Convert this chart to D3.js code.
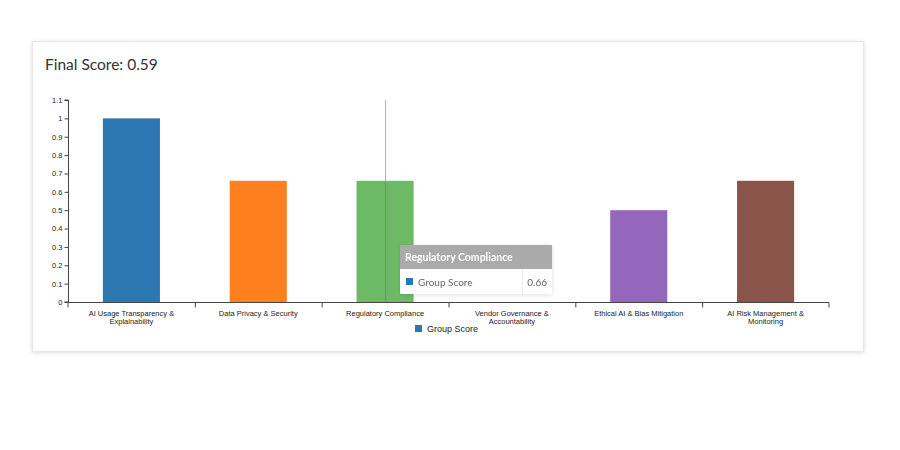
<!DOCTYPE html>
<html>
<head>
<meta charset="utf-8">
<script src="https://cdn.jsdelivr.net/npm/d3@7"></script>
<style>
  body { margin: 0; background: #fff; }
  svg { display: block; font-family: "Liberation Sans", Arial, sans-serif; }
</style>
</head>
<body>
<svg id="chart"></svg>
<script>
// chart values
var categories = ["AI Usage Transparency & Explainability", "Data Privacy & Security",
                  "Regulatory Compliance", "Vendor Governance & Accountability",
                  "Ethical AI & Bias Mitigation", "AI Risk Management & Monitoring"]
var scores = [1, 0.66, 0.66, 0, 0.5, 0.66]
var barColors = ["#2b78b2", "#fd7f1e", "#6cba66", "#1f77b4", "#9467bd", "#89544a"]
var yTicks = [0, 0.1, 0.2, 0.3, 0.4, 0.5, 0.6, 0.7, 0.8, 0.9, 1, 1.1]
var finalScore = 0.59
var seriesName = "Group Score"
var hoverIdx = 2

var svg = d3.select("#chart").attr("width", 900).attr("height", 450)

var defs = svg.append("defs")
var shadow = defs.append("filter").attr("id", "shadow").attr("x", "-20%").attr("y", "-20%")
                 .attr("width", "140%").attr("height", "150%")
shadow.append("feDropShadow").attr("dx", 0).attr("dy", 1).attr("stdDeviation", 2)
      .attr("flood-color", "#000").attr("flood-opacity", 0.12)

// card
svg.append("rect")
   .attr("x", 32.5).attr("y", 41.5).attr("width", 831).attr("height", 310)
   .attr("fill", "#fff").attr("stroke", "#e6e6e6").attr("filter", "url(#shadow)")

svg.append("text")
   .attr("x", 45).attr("y", 70)
   .attr("font-family", "Lato, 'Open Sans', sans-serif")
   .attr("font-size", 15.5).attr("fill", "#333")
   .text("Final Score: " + finalScore)

var plotLeft = 68, plotRight = 829, plotTop = 100, plotBottom = 302

var x = d3.scaleBand().domain(categories).range([plotLeft, plotRight])
var y = d3.scaleLinear().domain([0, 1.1]).range([plotBottom, plotTop])

// bars
svg.append("g")
   .selectAll("rect")
   .data(categories)
   .join("rect")
   .attr("x", (d) => x(d) + x.bandwidth() * 0.275)
   .attr("width", x.bandwidth() * 0.45)
   .attr("y", (d, i) => y(scores[i]))
   .attr("height", (d, i) => y(0) - y(scores[i]))
   .attr("fill", (d, i) => barColors[i])

// focus line on hovered category
svg.append("line")
   .attr("x1", x(categories[hoverIdx]) + x.bandwidth() / 2 + 0.5)
   .attr("x2", x(categories[hoverIdx]) + x.bandwidth() / 2 + 0.5)
   .attr("y1", y(1.1)).attr("y2", y(0))
   .attr("stroke", "#777").attr("stroke-opacity", 0.6)

// y axis
var yAxis = svg.append("g")
   .attr("transform", `translate(${plotLeft + 0.5},0)`)
   .call(d3.axisLeft(y).tickValues(yTicks).tickSize(4).tickSizeOuter(0)
           .tickFormat((d) => d3.format("~g")(+d.toFixed(1))))
yAxis.selectAll("text").attr("font-size", 7.5).attr("fill", "#222").attr("x", -6)
yAxis.selectAll("line,path").attr("stroke", "#444")
yAxis.select(".domain").attr("d", `M-4,${y(1.1)}H0V${y(0)}H-4`)

// x axis, ticks at category boundaries
var xAxis = svg.append("g").attr("transform", `translate(0,${plotBottom + 0.5})`)
xAxis.append("path")
     .attr("d", `M${plotLeft},5V0H${plotRight}V5`)
     .attr("fill", "none").attr("stroke", "#444")
xAxis.selectAll(".tk")
     .data(categories.slice(1))
     .join("line")
     .attr("x1", (d) => x(d) + 0.5).attr("x2", (d) => x(d) + 0.5)
     .attr("y1", 0).attr("y2", 5)
     .attr("stroke", "#444")

var labels = xAxis.selectAll(".lbl")
     .data(categories)
     .join("text")
     .attr("x", (d) => x(d) + x.bandwidth() / 2)
     .attr("y", 13)
     .attr("text-anchor", "middle")
     .attr("font-size", 7.5).attr("fill", "#222")

labels.each(function (d) {
    var el = d3.select(this)
    var words = d.split(" ")
    var line = []
    var tspan = el.append("tspan").attr("x", x(d) + x.bandwidth() / 2).attr("dy", 0)
    words.forEach((w) => {
        line.push(w)
        tspan.text(line.join(" "))
        if (tspan.node().getComputedTextLength() > 105 && line.length > 1) {
            line.pop()
            tspan.text(line.join(" "))
            line = [w]
            tspan = el.append("tspan").attr("x", x(d) + x.bandwidth() / 2).attr("dy", 8.5).text(w)
        }
    })
})

// legend
svg.append("rect").attr("x", 415).attr("y", 325).attr("width", 7).attr("height", 7)
   .attr("fill", barColors[0])
svg.append("text").attr("x", 427).attr("y", 332)
   .attr("font-size", 9).attr("fill", "#222").text(seriesName)

// tooltip
var tip = svg.append("g").attr("transform", "translate(400,245)").attr("filter", "url(#shadow)")
tip.append("rect").attr("width", 152).attr("height", 49).attr("fill", "#fff")
tip.append("rect").attr("width", 152).attr("height", 24).attr("fill", "#aaa")
tip.append("text").attr("x", 5).attr("y", 16)
   .attr("font-family", "Lato, 'Open Sans', sans-serif")
   .attr("font-size", 10.5).attr("font-weight", "bold").attr("fill", "#fff")
   .text(categories[hoverIdx])
tip.append("line").attr("x1", 122.5).attr("x2", 122.5).attr("y1", 24).attr("y2", 49)
   .attr("stroke", "#eee")
tip.append("rect").attr("x", 6).attr("y", 33).attr("width", 7).attr("height", 7)
   .attr("fill", barColors[0])
tip.append("text").attr("x", 18).attr("y", 40.5)
   .attr("font-family", "Lato, 'Open Sans', sans-serif")
   .attr("font-size", 10).attr("fill", "#666").text(seriesName)
tip.append("text").attr("x", 147).attr("y", 40.5).attr("text-anchor", "end")
   .attr("font-family", "Lato, 'Open Sans', sans-serif")
   .attr("font-size", 10).attr("fill", "#666").text(scores[hoverIdx].toFixed(2))
</script>
</body>
</html>
